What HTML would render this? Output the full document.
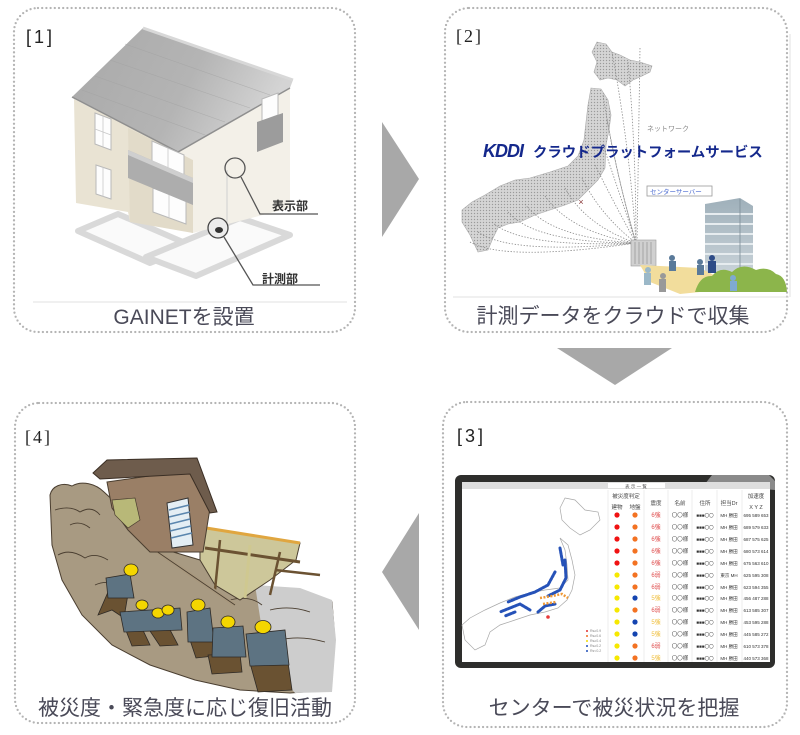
<!DOCTYPE html>
<html><head><meta charset="utf-8">
<style>
html,body{margin:0;padding:0;background:#fff;}
body{width:800px;height:735px;overflow:hidden;}
svg{display:block;}
.cap{font-family:"Liberation Sans","Noto Sans CJK JP",sans-serif;font-size:21px;fill:#4a4a58;}
.lbl{font-family:"Liberation Sans","Noto Sans CJK JP",sans-serif;font-size:18px;fill:#222;letter-spacing:3px;}
.lbls{font-family:"Liberation Serif","Noto Serif CJK SC",serif;font-size:18px;fill:#222;letter-spacing:2px;}
.t{font-family:"Liberation Sans","Noto Sans CJK JP",sans-serif;}
</style></head><body>
<svg width="800" height="735" viewBox="0 0 800 735" xmlns="http://www.w3.org/2000/svg">
<defs>
<linearGradient id="roofg" x1="0" y1="0" x2="1" y2="0.3">
<stop offset="0" stop-color="#a9a9a9"/><stop offset="0.6" stop-color="#b4b4b4"/><stop offset="1" stop-color="#d4d4d4"/>
</linearGradient>
<linearGradient id="bldg" x1="0" y1="0" x2="0" y2="1">
<stop offset="0" stop-color="#9fb0ba"/><stop offset="1" stop-color="#c8d2d8"/>
</linearGradient>
<pattern id="speck" width="3" height="3" patternUnits="userSpaceOnUse">
<rect width="3" height="3" fill="#cfcfcf"/>
<rect x="0" y="0" width="1" height="1" fill="#9a9a9a"/>
<rect x="1.5" y="1.5" width="1" height="1" fill="#e8e8e8"/>
</pattern>
</defs>

<!-- panel borders -->
<g fill="none" stroke="#b4b4b4" stroke-width="2.3" stroke-linecap="round" stroke-dasharray="0 4.2">
<rect x="14" y="8" width="341" height="324" rx="24"/>
<rect x="445" y="8" width="342" height="324" rx="24"/>
<rect x="443" y="402" width="344" height="325" rx="24"/>
<rect x="15" y="403" width="340" height="320" rx="24"/>
</g>

<!-- arrows -->
<g fill="#a8a8a8">
<polygon points="382,122 419,179 382,237"/>
<polygon points="557,348 672,348 615,385"/>
<polygon points="419,513 419,630 382,572"/>
</g>

<!-- labels -->
<text class="lbl" x="26" y="43">[1]</text>
<text class="lbls" x="456" y="42">[2]</text>
<text class="lbl" x="457" y="442">[3]</text>
<text class="lbls" x="25" y="443">[4]</text>

<!-- ============ PANEL 1: house ============ -->
<line x1="33" y1="302" x2="347" y2="302" stroke="#e2e2e2" stroke-width="1"/>
<g stroke="#d9d9d9" stroke-width="6" fill="#fafafa" stroke-linejoin="round">
<polygon points="78,231 118,214 192,246 150,263"/>
<polygon points="146,257 240,218 290,235 196,276"/>
</g>
<polygon points="74,99 178,152 193,160 193,233 160,224 130,222 128,212 76,203" fill="#e9e3d3"/>
<polygon points="128,128 193,160 193,233 130,222" fill="#e2dbc9"/>
<polygon points="178,152 290,86 290,208 193,233 193,160" fill="#f3f0e8"/>
<polygon points="143,28 293,80 290,88 178,152 72,97" fill="url(#roofg)"/>
<polyline points="72,97 178,152 290,88" fill="none" stroke="#8f8f8f" stroke-width="1.5"/>
<line x1="143" y1="28" x2="293" y2="80" stroke="#d8d8d8" stroke-width="3"/>
<g stroke="#a0a0a0" stroke-width="0.6" opacity="0.6">
<line x1="125" y1="44" x2="270" y2="95"/><line x1="110" y1="60" x2="250" y2="108"/><line x1="95" y1="76" x2="225" y2="122"/><line x1="82" y1="90" x2="205" y2="135"/>
</g>
<g fill="#fdfdfd" stroke="#b9b9b9" stroke-width="1">
<polygon points="95,113 111,119 111,150 95,144"/>
<polygon points="96,165 111,170 111,199 96,194"/>
<polygon points="152,141 184,155 184,176 152,163"/>
<polygon points="153,188 186,201 186,224 153,212"/>
<polygon points="262,99 278,93 278,115 262,121"/>
</g>
<g stroke="#c8c8c8" stroke-width="0.8">
<line x1="103" y1="116" x2="103" y2="147"/><line x1="95" y1="129" x2="111" y2="135"/>
<line x1="103" y1="167" x2="103" y2="197"/>
<line x1="168" y1="148" x2="168" y2="170"/><line x1="169" y1="195" x2="169" y2="218"/>
</g>
<polygon points="128,150 193,178 193,205 128,178" fill="#adadad"/>
<polygon points="128,150 193,178 193,183 128,155" fill="#cfcfcf"/>
<polygon points="257,122 283,113 283,142 257,152" fill="#9c9c9c"/>
<line x1="227" y1="170" x2="227" y2="234" stroke="#cfcfcf" stroke-width="1"/>
<circle cx="235" cy="168" r="10" fill="none" stroke="#555" stroke-width="1.3"/>
<polyline points="241,177 260,214 318,214" fill="none" stroke="#555" stroke-width="1.3"/>
<circle cx="218" cy="228" r="10" fill="#ececec" stroke="#444" stroke-width="1.3"/>
<ellipse cx="219" cy="230" rx="4" ry="3" fill="#333"/>
<polyline points="224,237 253,285 320,285" fill="none" stroke="#555" stroke-width="1.3"/>
<text class="t" x="272" y="210" font-size="12" font-weight="bold" fill="#333">表示部</text>
<text class="t" x="262" y="283" font-size="12" font-weight="bold" fill="#333">計測部</text>

<text class="cap" x="184" y="324" text-anchor="middle">GAINETを設置</text>

<!-- ============ PANEL 2: cloud ============ -->
<line x1="453" y1="297" x2="789" y2="297" stroke="#e0e0e0" stroke-width="1"/>
<line x1="790" y1="34" x2="790" y2="297" stroke="#e0e0e0" stroke-width="1"/>
<g fill="url(#speck)" stroke="#aaaaaa" stroke-width="0.6">
<path d="M597,42 L606,44 L612,52 L620,55 L630,60 L640,62 L652,66 L650,72 L642,76 L633,80 L625,86 L617,80 L608,78 L600,80 L594,72 L597,62 L592,52 Z"/>
<path d="M591,88 L601,89 L608,100 L611,115 L609,130 L606,145 L605,168 L598,180 L588,190 L578,200 L565,205 L550,210 L535,215 L520,222 L508,224 L498,228 L493,238 L488,250 L478,252 L470,235 L462,222 L462,210 L472,202 L485,195 L500,186 L515,180 L530,178 L550,172 L568,166 L578,156 L584,140 L586,122 L588,105 Z"/>
</g>
<g fill="none" stroke="#8a8a8a" stroke-width="0.8" stroke-dasharray="1.4 1.6">
<path d="M612,52 Q630,150 636,243"/>
<path d="M628,62 Q636,150 636,243"/>
<path d="M640,48 L637,243"/>
<path d="M603,95 Q615,170 636,243"/>
<path d="M607,120 Q618,180 636,243"/>
<path d="M603,145 Q620,195 636,243"/>
<path d="M595,165 Q615,205 636,243"/>
<path d="M582,178 Q600,215 636,243"/>
<path d="M565,188 Q585,225 636,243"/>
<path d="M545,196 Q570,232 636,243"/>
<path d="M525,204 Q550,238 636,243"/>
<path d="M508,212 Q535,243 636,243"/>
<path d="M492,222 Q520,248 636,243"/>
<path d="M478,232 Q510,255 636,243"/>
<path d="M470,242 Q505,262 636,243"/>
</g>
<text x="581" y="205" font-size="9" fill="#8a3a3a" text-anchor="middle" class="t">×</text>
<text class="t" x="647" y="131" font-size="7" fill="#888">ネットワーク</text>
<text class="t" x="483" y="157" font-size="18" font-weight="bold" font-style="italic" fill="#14288c" letter-spacing="-1">KDDI</text>
<text class="t" x="533" y="157" font-size="14.4" font-weight="bold" fill="#14288c">クラウドプラットフォームサービス</text>
<rect x="647" y="186" width="65" height="10" fill="#fff" stroke="#999" stroke-width="0.8"/>
<text class="t" x="650" y="194" font-size="6.5" fill="#4a6ad0">センターサーバー</text>
<polygon points="705,204 740,198 753,206 753,273 705,273" fill="url(#bldg)"/>
<g stroke="#e6ecef" stroke-width="2">
<line x1="705" y1="214" x2="753" y2="214"/><line x1="705" y1="224" x2="753" y2="224"/><line x1="705" y1="234" x2="753" y2="234"/><line x1="705" y1="244" x2="753" y2="244"/><line x1="705" y1="254" x2="753" y2="254"/><line x1="705" y1="264" x2="753" y2="264"/>
</g>
<line x1="740" y1="199" x2="740" y2="273" stroke="#7d8e98" stroke-width="0.8"/>
<rect x="631" y="240" width="25" height="26" fill="#d0d0d0" stroke="#999" stroke-width="0.6"/>
<g stroke="#888" stroke-width="0.6"><line x1="635" y1="242" x2="635" y2="264"/><line x1="639" y1="242" x2="639" y2="264"/><line x1="643" y1="242" x2="643" y2="264"/><line x1="647" y1="242" x2="647" y2="264"/><line x1="651" y1="242" x2="651" y2="264"/></g>
<polygon points="640,265 700,268 740,288 680,294 650,282" fill="#f2dd9c"/>
<path d="M695,292 Q700,275 712,276 Q720,266 732,272 Q742,262 756,270 Q768,266 776,274 Q786,276 787,292 Z" fill="#8cb54b"/>
<g fill="#5a7a9a">
<circle cx="672" cy="258" r="3"/><rect x="669" y="261" width="7" height="10"/>
<circle cx="700" cy="262" r="3"/><rect x="697" y="265" width="7" height="10"/>
<circle cx="712" cy="258" r="3" fill="#2e4c88"/><rect x="708" y="261" width="8" height="12" fill="#2e4c88"/>
</g>
<g fill="#9bb8c8"><circle cx="648" cy="270" r="3"/><rect x="644" y="273" width="7" height="12"/></g>
<g fill="#999"><circle cx="663" cy="276" r="3"/><rect x="659" y="279" width="7" height="13"/></g>
<g fill="#7faad0"><circle cx="733" cy="278" r="3"/><rect x="730" y="281" width="7" height="10"/></g>

<text class="cap" x="613" y="323" text-anchor="middle">計測データをクラウドで収集</text>

<!-- ============ PANEL 3: monitor ============ -->
<rect x="455" y="475" width="320" height="193" rx="6" fill="#2e2e2c"/>
<polygon points="712,475 769,475 775,481 775,490 705,484" fill="#8a8a8a"/>
<rect x="462" y="482" width="308" height="180" fill="#fff"/>
<rect x="462" y="482" width="308" height="7" fill="#dedede"/>
<rect x="608" y="483" width="57" height="5" fill="#fff"/>
<text class="t" x="636" y="488" font-size="4.5" fill="#555" text-anchor="middle">表 示 一 覧</text>
<g fill="#fff" stroke="#a8a8a8" stroke-width="0.7">
<path d="M565,498 L575,500 L585,510 L598,512 L600,520 L590,530 L580,535 L570,528 L562,520 L560,508 Z"/>
<path d="M560,538 L565,550 L567,565 L568,580 L560,588 L545,590 L530,593 L515,597 L500,603 L485,610 L470,618 L462,625 L465,640 L475,650 L485,645 L490,632 L500,625 L515,620 L530,615 L545,612 L558,608 L567,600 L572,590 L575,575 L572,560 L568,545 Z"/>
</g>
<g fill="none" stroke="#2652b8" stroke-width="3" stroke-dasharray="2.5 1.2" stroke-linecap="round">
<path d="M565,560 L566,578 L560,590 L548,596"/>
<path d="M555,572 L548,585 L535,592 L520,597 L508,602"/>
<path d="M530,610 L520,604 L510,608 L500,612"/>
<path d="M555,604 L545,606 L538,612"/>
<path d="M560,548 L563,565"/>
<path d="M515,612 L505,616"/>
</g>
<g fill="none" stroke="#ef9a38" stroke-width="2.5" stroke-dasharray="2 1.5">
<path d="M540,598 L552,596 L562,594 L568,598"/>
<path d="M543,604 L556,602"/>
</g>
<circle cx="548" cy="617" r="1.8" fill="#e83a3a"/>
<g class="t" font-size="3.5" fill="#888">
<circle cx="587" cy="631" r="1" fill="#e03030"/><text x="590" y="632">Rs≥0.9</text>
<circle cx="587" cy="636" r="1" fill="#f07020"/><text x="590" y="637">Rs≥0.6</text>
<circle cx="587" cy="641" r="1" fill="#f0d800"/><text x="590" y="642">Rs≥0.4</text>
<circle cx="587" cy="646" r="1" fill="#2050b8"/><text x="590" y="647">Rs≥0.2</text>
<circle cx="587" cy="651" r="1" fill="#2050b8"/><text x="590" y="652">Rs&lt;0.2</text>
</g>
<g stroke="#e2e2e2" stroke-width="0.6">
<line x1="608" y1="490" x2="608" y2="662"/><line x1="644" y1="490" x2="644" y2="662"/><line x1="668" y1="490" x2="668" y2="662"/><line x1="692" y1="490" x2="692" y2="662"/><line x1="717" y1="490" x2="717" y2="662"/><line x1="742" y1="490" x2="742" y2="662"/>
</g>
<g class="t" font-size="5.5" fill="#444" text-anchor="middle">
<text x="626" y="498">被災度判定</text><text x="617" y="509">建物</text><text x="635" y="509">地盤</text>
<text x="656" y="505">震度</text><text x="680" y="505">名前</text><text x="705" y="505">住所</text><text x="729" y="505">担当Dr</text>
<text x="756" y="498">加速度</text><text x="756" y="509">X Y Z</text>
</g>
<g>
<g fill="#f01212"><circle cx="617" cy="515" r="2.6"/><circle cx="617" cy="527" r="2.6"/><circle cx="617" cy="539" r="2.6"/><circle cx="617" cy="551" r="2.6"/><circle cx="617" cy="563" r="2.6"/></g>
<g fill="#f6e800"><circle cx="617" cy="575" r="2.6"/><circle cx="617" cy="587" r="2.6"/><circle cx="617" cy="598" r="2.6"/><circle cx="617" cy="610" r="2.6"/><circle cx="617" cy="622" r="2.6"/><circle cx="617" cy="634" r="2.6"/><circle cx="617" cy="646" r="2.6"/><circle cx="617" cy="658" r="2.6"/></g>
<g fill="#f37222"><circle cx="635" cy="515" r="2.6"/><circle cx="635" cy="527" r="2.6"/><circle cx="635" cy="539" r="2.6"/><circle cx="635" cy="551" r="2.6"/><circle cx="635" cy="563" r="2.6"/><circle cx="635" cy="575" r="2.6"/><circle cx="635" cy="587" r="2.6"/><circle cx="635" cy="610" r="2.6"/><circle cx="635" cy="646" r="2.6"/><circle cx="635" cy="658" r="2.6"/></g>
<g fill="#1444b0"><circle cx="635" cy="598" r="2.6"/><circle cx="635" cy="622" r="2.6"/><circle cx="635" cy="634" r="2.6"/></g>
<g class="t" font-size="6" text-anchor="middle">
<g fill="#e05050"><text x="656" y="517">6強</text><text x="656" y="529">6強</text><text x="656" y="541">6強</text><text x="656" y="553">6強</text><text x="656" y="565">6強</text><text x="656" y="577">6弱</text><text x="656" y="589">6弱</text><text x="656" y="612">6弱</text><text x="656" y="648">6弱</text></g>
<g fill="#f0c040"><text x="656" y="600">5強</text><text x="656" y="624">5強</text><text x="656" y="636">5強</text><text x="656" y="660">5強</text></g>
<g fill="#444" font-size="5.5">
<text x="680" y="517">〇〇様</text><text x="680" y="529">〇〇様</text><text x="680" y="541">〇〇様</text><text x="680" y="553">〇〇様</text><text x="680" y="565">〇〇様</text><text x="680" y="577">〇〇様</text><text x="680" y="589">〇〇様</text><text x="680" y="600">〇〇様</text><text x="680" y="612">〇〇様</text><text x="680" y="624">〇〇様</text><text x="680" y="636">〇〇様</text><text x="680" y="648">〇〇様</text><text x="680" y="660">〇〇様</text>
</g>
<g fill="#333" font-size="4.5">
<text x="705" y="517">■■■〇〇</text><text x="705" y="529">■■■〇〇</text><text x="705" y="541">■■■〇〇</text><text x="705" y="553">■■■〇〇</text><text x="705" y="565">■■■〇〇</text><text x="705" y="577">■■■〇〇</text><text x="705" y="589">■■■〇〇</text><text x="705" y="600">■■■〇〇</text><text x="705" y="612">■■■〇〇</text><text x="705" y="624">■■■〇〇</text><text x="705" y="636">■■■〇〇</text><text x="705" y="648">■■■〇〇</text><text x="705" y="660">■■■〇〇</text>
<text x="729" y="517">MH 勝田</text><text x="729" y="529">MH 勝田</text><text x="729" y="541">MH 勝田</text><text x="729" y="553">MH 勝田</text><text x="729" y="565">MH 勝田</text><text x="729" y="577">東京 MH</text><text x="729" y="589">MH 勝田</text><text x="729" y="600">MH 勝田</text><text x="729" y="612">MH 勝田</text><text x="729" y="624">MH 勝田</text><text x="729" y="636">MH 勝田</text><text x="729" y="648">MH 勝田</text><text x="729" y="660">MH 勝田</text>
<text x="756" y="517">695 589 653</text><text x="756" y="529">689 579 633</text><text x="756" y="541">687 575 625</text><text x="756" y="553">680 573 614</text><text x="756" y="565">675 563 610</text><text x="756" y="577">625 595 308</text><text x="756" y="589">623 594 355</text><text x="756" y="600">456 487 288</text><text x="756" y="612">613 585 307</text><text x="756" y="624">453 595 288</text><text x="756" y="636">445 585 272</text><text x="756" y="648">610 573 378</text><text x="756" y="660">440 573 368</text>
</g>
</g>
</g>

<text class="cap" x="614" y="715" text-anchor="middle">センターで被災状況を把握</text>

<!-- ============ PANEL 4: rescue ============ -->
<path d="M50,495 C52,486 62,482 72,486 C82,480 96,484 104,492 L118,505 L135,530 L160,548 L200,560 L240,575 L270,590 L300,600 L332,602 L335,640 L330,690 L290,693 L240,690 L195,680 L150,665 L112,645 L82,615 L62,580 L52,545 Z" fill="#a89a82" stroke="#4a3e30" stroke-width="1"/>
<path d="M255,585 L300,588 L332,600 L336,640 L332,692 L295,693 L275,670 L262,630 Z" fill="#cdcdcd"/>
<g fill="none" stroke="#4a3e30" stroke-width="0.9">
<path d="M55,510 Q70,505 80,512 Q92,505 100,515"/>
<path d="M70,525 Q80,520 90,528"/>
<path d="M58,555 Q70,548 85,558 Q95,552 108,560"/>
<path d="M95,585 Q110,578 125,590"/>
<path d="M270,610 Q290,605 310,612"/>
<path d="M280,640 Q300,635 325,642"/>
<path d="M230,600 Q250,595 262,605"/>
</g>
<polygon points="200,527 300,543 296,560 270,580 240,600 215,585 200,560" fill="#cdc79a" stroke="#4a3e30" stroke-width="1"/>
<line x1="200" y1="527" x2="300" y2="543" stroke="#e0a640" stroke-width="3"/>
<line x1="205" y1="548" x2="300" y2="562" stroke="#6b5232" stroke-width="3"/>
<line x1="220" y1="540" x2="215" y2="590" stroke="#6b5232" stroke-width="2.5"/>
<line x1="250" y1="545" x2="245" y2="598" stroke="#cfc890" stroke-width="3"/>
<line x1="280" y1="552" x2="270" y2="595" stroke="#6b5232" stroke-width="2.5"/>
<line x1="275" y1="570" x2="320" y2="575" stroke="#6b5232" stroke-width="2.5"/>
<line x1="140" y1="540" x2="235" y2="605" stroke="#a8987e" stroke-width="4"/>
<line x1="140" y1="540" x2="235" y2="605" stroke="#4a3e30" stroke-width="0.8"/>
<polygon points="107,482 192,470 210,508 203,552 150,552 128,530 112,508" fill="#9a7f66" stroke="#4a3e30" stroke-width="1"/>
<polygon points="112,500 135,498 140,520 128,528 115,515" fill="#b8b878" stroke="#4a3e30" stroke-width="0.7"/>
<polygon points="93,473 107,460 197,458 217,512 210,513 190,474 100,479" fill="#6e5c4c" stroke="#3a2e24" stroke-width="1"/>
<polygon points="167,503 188,498 193,545 172,548" fill="#e4eef4" stroke="#333" stroke-width="1"/>
<g stroke="#5a86ae" stroke-width="1.6">
<line x1="169" y1="510" x2="189" y2="505"/><line x1="169" y1="517" x2="190" y2="512"/><line x1="170" y1="524" x2="190" y2="519"/><line x1="170" y1="531" x2="191" y2="526"/><line x1="171" y1="538" x2="192" y2="533"/>
</g>
<g stroke="#2e2a26" stroke-width="0.8">
<path d="M98,615 L108,592 L128,594 L124,618 L112,610 Z" fill="#6a5232"/>
<path d="M106,578 L130,574 L134,598 L108,598 Z" fill="#5d7382"/>
<ellipse cx="131" cy="570" rx="7" ry="6" fill="#f4d600"/>
<path d="M125,628 L140,624 L150,645 L132,646 Z" fill="#6a5232"/>
<path d="M148,628 L168,626 L178,645 L160,646 Z" fill="#6a5232"/>
<path d="M120,612 L180,608 L182,630 L124,632 Z" fill="#5d7382"/>
<ellipse cx="142" cy="605" rx="6" ry="5" fill="#f4d600"/>
<ellipse cx="158" cy="613" rx="6" ry="5" fill="#f4d600"/>
<ellipse cx="168" cy="610" rx="6" ry="5" fill="#f4d600"/>
<path d="M190,640 L213,640 L214,656 L196,658 Z" fill="#6a5232"/>
<path d="M187,612 L210,608 L214,642 L188,642 Z" fill="#5d7382"/>
<ellipse cx="198" cy="605" rx="7" ry="6" fill="#f4d600"/>
<path d="M208,655 L240,654 L242,672 L212,674 Z" fill="#6a5232"/>
<path d="M213,628 L243,626 L246,657 L212,657 Z" fill="#5d7382"/>
<ellipse cx="228" cy="622" rx="7" ry="6" fill="#f4d600"/>
<path d="M250,663 L288,662 L292,690 L258,692 Z" fill="#6a5232"/>
<path d="M246,634 L285,630 L289,665 L250,666 Z" fill="#5d7382"/>
<ellipse cx="263" cy="627" rx="8" ry="6.5" fill="#f4d600"/>
</g>

<text class="cap" x="185" y="715" text-anchor="middle">被災度・緊急度に応じ復旧活動</text>
</svg>
</body></html>
